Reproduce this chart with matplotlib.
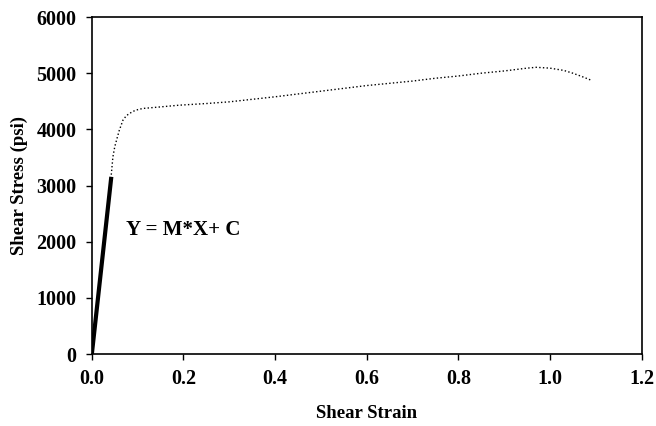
import matplotlib
matplotlib.use('Agg')
import matplotlib.pyplot as plt

# Stress-strain curve
strain = [0.0, 0.02, 0.042, 0.046, 0.05, 0.055, 0.06, 0.068, 0.075, 0.082, 0.095, 0.111, 0.15, 0.19,
          0.25, 0.30, 0.35, 0.40, 0.45, 0.50, 0.55, 0.60, 0.65, 0.70, 0.75, 0.80,
          0.85, 0.90, 0.93, 0.95, 0.97, 1.00, 1.03, 1.05, 1.07, 1.09]
stress = [0, 1500, 3155, 3510, 3690, 3840, 3985, 4165, 4240, 4283, 4340, 4372, 4400, 4430,
          4460, 4490, 4535, 4580, 4630, 4680, 4730, 4780, 4820, 4860, 4910, 4950,
          5000, 5040, 5070, 5090, 5105, 5090, 5050, 5000, 4940, 4875]

# Linear fit segment
fit_x = [0.0, 0.0425]
fit_y = [0, 3155]

xticks = [0.0, 0.2, 0.4, 0.6, 0.8, 1.0, 1.2]
yticks = [0, 1000, 2000, 3000, 4000, 5000, 6000]

plt.rcParams['font.family'] = ['Liberation Serif', 'DejaVu Serif']
plt.rcParams['font.weight'] = 'bold'

fig = plt.figure(figsize=(6.56, 4.26), dpi=100)
ax = fig.add_axes([0.140, 0.169, 0.838, 0.791])

ax.plot(strain, stress, color='black', linestyle=':', linewidth=1.0)
ax.plot(fit_x, fit_y, color='black', linewidth=3.0, solid_capstyle='butt')

ax.text(0.075, 2200, 'Y = M*X+ C', fontsize=15, fontweight='bold', va='center')

ax.set_xlim(0, 1.2)
ax.set_ylim(0, 6000)
ax.set_xticks(xticks)
ax.set_xticklabels(['%.1f' % v for v in xticks])
ax.set_yticks(yticks)
ax.tick_params(labelsize=14.5, width=1, length=4, direction='out', pad=7)
for lbl in ax.get_xticklabels() + ax.get_yticklabels():
    lbl.set_fontweight('bold')
ax.set_xlabel('Shear Strain', fontsize=13.5, fontweight='bold', labelpad=11)
ax.set_ylabel('Shear Stress (psi)', fontsize=13.5, fontweight='bold', labelpad=6)
for s in ax.spines.values():
    s.set_linewidth(1.2)

fig.savefig('out.png', dpi=100)
